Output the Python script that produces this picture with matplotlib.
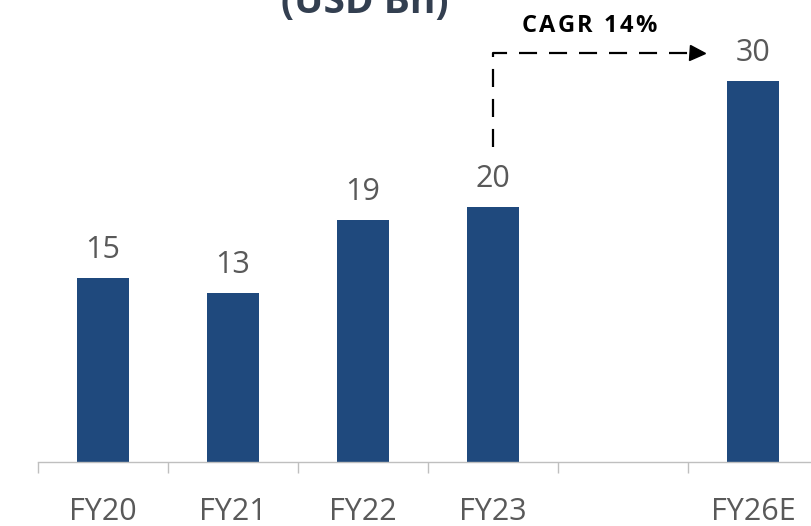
import matplotlib
matplotlib.use("Agg")
import matplotlib.pyplot as plt
from matplotlib.font_manager import FontProperties
import numpy as np

plt.rcParams['lines.scale_dashes'] = False

categories = ["FY20", "FY21", "FY22", "FY23", "", "FY26E"]
values = [14.6, 13.4, 19.2, 20.2, None, 30.2]
labels = ["15", "13", "19", "20", "", "30"]
title = "(USD Bn)"
cagr_text = "CAGR 14%"

bar_color = "#1F497D"
text_grey = "#595959"

fig = plt.figure(figsize=(8.12, 5.26), dpi=100)
ax = fig.add_axes([38/812, 64/526, 780/812, 453.6/526])

x = np.arange(len(categories))
for xi, v, lab in zip(x, values, labels):
    if v is None:
        continue
    ax.bar(xi, v, width=0.4, color=bar_color, zorder=2)
    ax.annotate(lab, xy=(xi, v), xytext=(0, 14.4), textcoords="offset points",
                ha="center", va="baseline", fontsize=22, color=text_grey,
                family="Open Sans")

ax.set_xlim(-0.5, len(categories) - 0.5)
ax.set_ylim(0, 36)
for s in ["top", "right", "left"]:
    ax.spines[s].set_visible(False)
ax.spines["bottom"].set_color("#BFBFBF")
ax.spines["bottom"].set_linewidth(1.0)
ax.set_yticks([])

ax.set_xticks(x)
ax.set_xticklabels(categories, fontsize=22, color=text_grey, family="Open Sans")
ax.tick_params(axis="x", which="major", length=0, pad=25)
ax.set_xticks(np.arange(-0.5, len(categories) + 0.5, 1), minor=True)
ax.tick_params(axis="x", which="minor", length=8, width=1.0, color="#BFBFBF")

# CAGR dashed connector from FY23 to FY26E
ax.plot([3.0, 3.0, 4.52], [25.0, 32.5, 32.5], color="black", lw=1.6,
        dashes=(13, 8.6), clip_on=False, zorder=3)
ax.plot([4.573], [32.5], marker=">", ms=10.8, color="black", clip_on=False,
        zorder=3, linestyle="none")

# CAGR label with letter spacing
fig.canvas.draw()
renderer = fig.canvas.get_renderer()
fp = FontProperties(family="Open Sans", weight="bold", size=17)
def tw(s):
    w, h, d = renderer.get_text_width_height_descent(s, fp, ismath=False)
    return w
ref = tw("|")
tracking = 2.4  # px
total = tw(cagr_text + "|") - ref + tracking * (len(cagr_text) - 1)
start = -total / 2
for i, ch in enumerate(cagr_text):
    if ch == " ":
        continue
    off = tw(cagr_text[:i] + "|") - ref if i > 0 else 0
    off += tracking * i
    ax.annotate(ch, xy=(3.74, 34.13), xytext=((start + off) * 72 / fig.dpi, 0),
                textcoords="offset points", ha="left", va="baseline",
                fontproperties=fp, color="black", annotation_clip=False)

fig.text(365/812, 1 - 13/526, title, ha="center", va="baseline", fontsize=28,
         fontweight="bold", color="#333F50", family="Open Sans")

fig.savefig("out.png", dpi=100)
